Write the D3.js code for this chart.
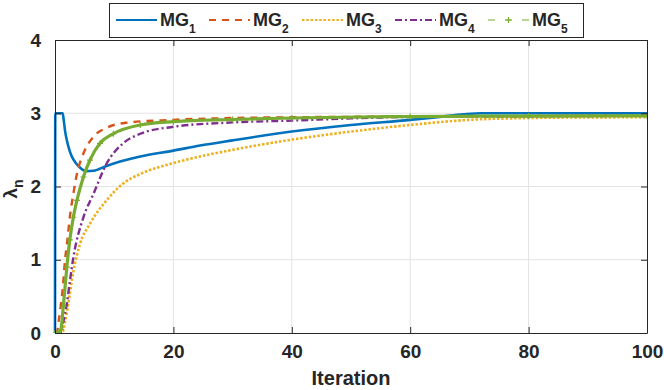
<!DOCTYPE html>
<html>
<head>
<meta charset="utf-8">
<script src="https://cdn.jsdelivr.net/npm/d3@7"></script>
<style>
  body { margin: 0; background: #fff; }
  text { font-family: "Liberation Sans", Arial, sans-serif; font-weight: bold; fill: #262626; }
</style>
</head>
<body>
<div id="chart"></div>
<script>
const iterTicks = [0, 20, 40, 60, 80, 100]
const lambdaTicks = [0, 1, 2, 3, 4]
const seriesNames = ["1", "2", "3", "4", "5"]

// [iteration, lambda_n]
const mg1 = [[0,0],[0.05,3],[1.3,3],[1.45,2.92],[1.7,2.76],[2,2.63],[2.5,2.48],[3.1,2.37],[4.2,2.26],[5.3,2.21],[6.5,2.215],[8.7,2.28],[11,2.34],[14.4,2.41],[20,2.49],[24.5,2.56],[30,2.63],[40,2.75],[50,2.84],[60,2.91],[65,2.95],[69,2.985],[72,3.0],[100,3.0]]
const mg2 = [[0,0],[0.3,0],[0.6,0.15],[0.9,0.33],[1.3,0.6],[1.7,1.0],[2,1.2],[2.5,1.58],[3.1,1.9],[3.7,2.17],[4.8,2.45],[6.5,2.68],[8.7,2.8],[12,2.87],[20,2.91],[30,2.935],[40,2.945],[60,2.955],[80,2.962],[100,2.965]]
const mg3 = [[0,0],[1.2,0],[1.7,0.15],[2.25,0.4],[3.1,0.84],[4.2,1.21],[5.9,1.49],[8.7,1.81],[11.5,2.04],[14.4,2.17],[20,2.32],[24.5,2.41],[30,2.5],[40,2.64],[50,2.75],[60,2.84],[70,2.91],[80,2.935],[90,2.943],[100,2.945]]
const mg4 = [[0,0],[0.85,0],[1.4,0.15],[2,0.4],[2.5,0.7],[3.1,1.03],[4.8,1.58],[6.5,1.9],[8.7,2.31],[11.5,2.59],[14.4,2.72],[20,2.815],[30,2.875],[40,2.9],[50,2.93],[60,2.95],[80,2.96],[100,2.965]]
const mg5 = [[0,0],[0.5,0],[1,0.05],[1.4,0.36],[2,0.9],[2.5,1.27],[3.1,1.58],[3.7,1.81],[4.8,2.13],[5.9,2.36],[7.6,2.59],[9.85,2.72],[14.4,2.84],[20,2.885],[30,2.915],[40,2.935],[60,2.955],[80,2.962],[100,2.965]]

const MARGIN = { TOP: 40, BOTTOM: 57, LEFT: 55, RIGHT: 17 }
const W = 664, H = 390
const WIDTH = W - MARGIN.LEFT - MARGIN.RIGHT
const HEIGHT = H - MARGIN.TOP - MARGIN.BOTTOM

const styles = [
  { data: mg1, color: "#0072BD", width: 2.6, dash: null },
  { data: mg2, color: "#D95319", width: 2.4, dash: "7,6" },
  { data: mg3, color: "#EDB120", width: 2.6, dash: "2.5,1.8" },
  { data: mg4, color: "#7E2F8E", width: 2.4, dash: "7,3,2,3" },
  { data: mg5, color: "#77AC30", width: 3.2, dash: null, marker: true }
]

const svg = d3.select("#chart").append("svg")
  .attr("width", W).attr("height", H)

const g = svg.append("g")
  .attr("transform", `translate(${MARGIN.LEFT}, ${MARGIN.TOP})`)

const x = d3.scaleLinear().domain([0, 100]).range([0, WIDTH])
const y = d3.scaleLinear().domain([0, 4]).range([HEIGHT, 0])

// grid
g.append("g").selectAll("line").data(iterTicks.slice(1, -1)).join("line")
  .attr("x1", d => x(d)).attr("x2", d => x(d))
  .attr("y1", 0).attr("y2", HEIGHT)
  .attr("stroke", "#e3e3e3").attr("stroke-width", 1)
g.append("g").selectAll("line").data(lambdaTicks.slice(1, -1)).join("line")
  .attr("x1", 0).attr("x2", WIDTH)
  .attr("y1", d => y(d)).attr("y2", d => y(d))
  .attr("stroke", "#e3e3e3").attr("stroke-width", 1)

svg.append("clipPath").attr("id", "clip")
  .append("rect").attr("x", -2).attr("y", -2).attr("width", WIDTH + 2).attr("height", HEIGHT + 2)

const line = d3.line()
  .x(d => x(d[0]))
  .y(d => y(d[1]))
  .curve(d3.curveMonotoneX)

const plot = g.append("g").attr("clip-path", "url(#clip)")

styles.forEach(s => {
  plot.append("path")
    .datum(s.data)
    .attr("fill", "none")
    .attr("stroke", s.color)
    .attr("stroke-width", s.width)
    .attr("stroke-dasharray", s.dash)
    .attr("d", line)
  if (s.marker) {
    plot.append("g").selectAll("path").data(s.data).join("path")
      .attr("d", d => `M${x(d[0]) - 3},${y(d[1])}h6M${x(d[0])},${y(d[1]) - 3}v6`)
      .attr("stroke", s.color).attr("stroke-width", 1.2)
  }
})

// axes (box with inner ticks)
const xAxisCall = d3.axisBottom(x).tickValues(iterTicks).tickFormat(d3.format("d"))
  .tickSizeInner(-6).tickSizeOuter(0).tickPadding(12)
const yAxisCall = d3.axisLeft(y).tickValues(lambdaTicks).tickFormat(d3.format("d"))
  .tickSizeInner(-6).tickSizeOuter(0).tickPadding(14)

const xAxisGroup = g.append("g").attr("transform", `translate(0, ${HEIGHT})`).call(xAxisCall)
const yAxisGroup = g.append("g").call(yAxisCall)
g.append("g").call(d3.axisTop(x).tickValues(iterTicks).tickSizeInner(-6).tickSizeOuter(0).tickFormat(""))
g.append("g").attr("transform", `translate(${WIDTH}, 0)`)
  .call(d3.axisRight(y).tickValues(lambdaTicks).tickSizeInner(-6).tickSizeOuter(0).tickFormat(""))

g.selectAll(".domain, .tick line").attr("stroke", "#262626").attr("stroke-width", 1)
xAxisGroup.selectAll("text").attr("font-size", "19px").attr("fill", "#262626")
yAxisGroup.selectAll("text").attr("font-size", "19px").attr("fill", "#262626")

// axis labels
g.append("text")
  .attr("x", WIDTH / 2)
  .attr("y", HEIGHT + 52)
  .attr("text-anchor", "middle")
  .attr("font-size", "20px")
  .text("Iteration")

const yl = svg.append("text")
  .attr("transform", "translate(17, 189) rotate(-90)")
  .attr("text-anchor", "middle")
  .attr("font-size", "19px")
yl.append("tspan").text("λ")
yl.append("tspan").attr("dy", 6).attr("font-size", "14px").text("n")

// legend
const legend = svg.append("g")
legend.append("rect")
  .attr("x", 109.5).attr("y", 3.5).attr("width", 474).attr("height", 34)
  .attr("fill", "#fff").attr("stroke", "#262626").attr("stroke-width", 1)

styles.forEach((s, i) => {
  const x0 = 116 + i * 93
  const le = legend.append("g")
  le.append("line")
    .attr("x1", x0).attr("x2", x0 + 41).attr("y1", 20).attr("y2", 20)
    .attr("stroke", s.color).attr("stroke-width", i === 4 ? 1.2 : 2)
    .attr("stroke-dasharray", i === 4 ? "7,10" : s.dash)
  if (s.marker) {
    le.append("path")
      .attr("d", `M${x0 + 17.5},20h6M${x0 + 20.5},17v6`)
      .attr("stroke", s.color).attr("stroke-width", 1.2)
  }
  const t = le.append("text").attr("x", x0 + 44).attr("y", 25.5).attr("font-size", "18px")
  t.append("tspan").text("MG")
  t.append("tspan").attr("dy", 7).attr("font-size", "12px").text(seriesNames[i])
})
</script>
</body>
</html>
